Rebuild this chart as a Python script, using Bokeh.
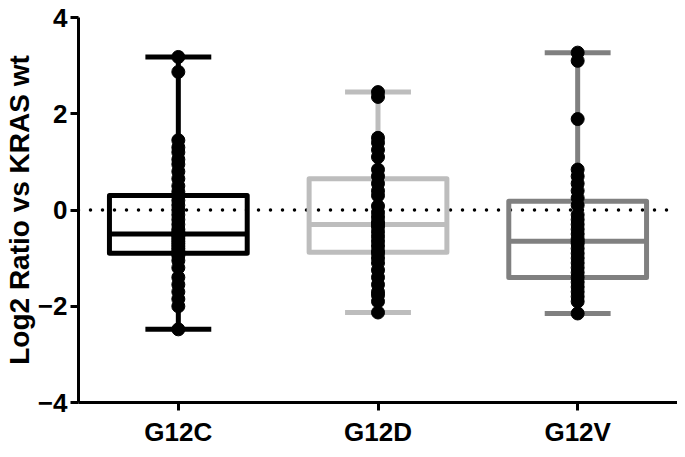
from bokeh.plotting import figure
from bokeh.models import Span, FixedTicker, ColumnDataSource, Range1d
from bokeh.embed import file_html
from bokeh.resources import INLINE

categories = ["G12C", "G12D", "G12V"]
box_colors = ["#000000", "#bdbdbd", "#808080"]

q1 = [-0.90, -0.88, -1.40]
median = [-0.50, -0.30, -0.65]
q3 = [0.30, 0.65, 0.18]
whisker_low = [-2.48, -2.13, -2.15]
whisker_high = [3.18, 2.45, 3.27]

g12c = [3.18, 2.87, 1.45, 1.30, 1.20, 1.05, 0.95, 0.80, 0.65, 0.50, 0.38, 0.30,
        0.20, 0.10, 0.00, -0.10, -0.20, -0.30, -0.40, -0.45, -0.50, -0.55, -0.60,
        -0.65, -0.70, -0.75, -0.80, -0.85, -0.90, -0.95, -1.05, -1.20, -1.40,
        -1.55, -1.70, -1.85, -2.00, -2.48]
g12d = [2.45, 2.35, 1.50, 1.40, 1.25, 1.10, 0.84, 0.70, 0.55, 0.40, 0.30, 0.08,
        -0.05, -0.15, -0.25, -0.30, -0.35, -0.45, -0.55, -0.65, -0.75, -0.85,
        -0.90, -1.00, -1.10, -1.25, -1.40, -1.55, -1.70, -1.77, -1.90, -2.13]
g12v = [3.27, 3.10, 1.89, 0.84, 0.70, 0.55, 0.40, 0.25, 0.10, -0.10, -0.20,
        -0.30, -0.40, -0.50, -0.60, -0.65, -0.70, -0.80, -0.90, -1.00, -1.10,
        -1.20, -1.30, -1.40, -1.50, -1.60, -1.70, -1.80, -1.90, -2.15]
points = [g12c, g12d, g12v]

y_ticks = [-4, -2, 0, 2, 4]

FONT = "Liberation Sans"
BOX_W = 0.69
CAP_W = 0.33

xpos = [i + 0.5 for i in range(len(categories))]

p = figure(width=677, height=449, output_backend="svg", toolbar_location=None,
           x_range=Range1d(0, len(categories)), y_range=Range1d(-4, 4),
           min_border_left=74, min_border_right=0, min_border_top=17,
           min_border_bottom=42)
p.background_fill_color = "white"
p.border_fill_color = "white"
p.outline_line_color = None
p.xgrid.visible = False
p.ygrid.visible = False

zero = Span(location=0, dimension="width", line_color="black", line_width=3.5,
            line_dash="0 12", line_cap="round", level="underlay")
p.add_layout(zero)

src = ColumnDataSource(dict(
    x=xpos, q1=q1, q3=q3, med=median, lo=whisker_low, hi=whisker_high,
    color=box_colors,
    bl=[x - BOX_W / 2 for x in xpos], br=[x + BOX_W / 2 for x in xpos],
    cl=[x - CAP_W / 2 for x in xpos], cr=[x + CAP_W / 2 for x in xpos],
))

# whiskers
p.segment(x0="x", y0="q3", x1="x", y1="hi", source=src, line_color="color", line_width=5)
p.segment(x0="x", y0="q1", x1="x", y1="lo", source=src, line_color="color", line_width=5)
p.segment(x0="cl", y0="hi", x1="cr", y1="hi", source=src, line_color="color", line_width=5)
p.segment(x0="cl", y0="lo", x1="cr", y1="lo", source=src, line_color="color", line_width=5)
# boxes
p.quad(left="bl", right="br", top="q3", bottom="q1", source=src, fill_alpha=0,
       line_color="color", line_width=5, line_join="round")
p.segment(x0="bl", y0="med", x1="br", y1="med", source=src, line_color="color", line_width=5)

# points
px, py = [], []
for x, vals in zip(xpos, points):
    px += [x] * len(vals)
    py += vals
p.scatter(px, py, size=13, color="black")

# axes
for ax in (p.xaxis[0], p.yaxis[0]):
    ax.axis_line_width = 3
    ax.major_tick_line_width = 3
    ax.major_tick_out = 8
    ax.major_tick_in = 0
    ax.minor_tick_line_color = None
    ax.major_label_text_font = FONT
    ax.major_label_text_font_style = "bold"
    ax.major_label_text_font_size = "26px"
    ax.major_label_text_color = "black"

p.xaxis.ticker = FixedTicker(ticks=xpos)
p.xaxis.major_label_overrides = {x: c for x, c in zip(xpos, categories)}
p.xaxis.major_label_standoff = 6

p.yaxis.ticker = FixedTicker(ticks=y_ticks)
p.yaxis.major_label_standoff = 3
p.yaxis.axis_label = "Log2 Ratio vs KRAS wt"
p.yaxis.axis_label_text_font = FONT
p.yaxis.axis_label_text_font_style = "bold"
p.yaxis.axis_label_text_font_size = "28px"
p.yaxis.axis_label_text_color = "black"
p.yaxis.axis_label_standoff = 0

open("out.html", "w").write(file_html(p, INLINE))
